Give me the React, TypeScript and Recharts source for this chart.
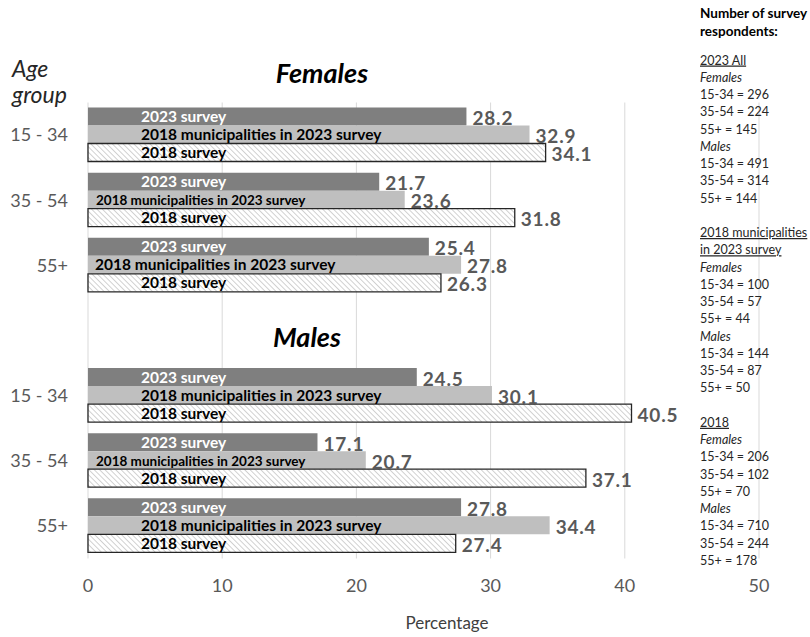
import React from "react";
import { Bar, BarChart, CartesianGrid, LabelList, XAxis, YAxis } from "recharts";

// rows of the chart, top to bottom; "gap" is the empty row that holds the "Males" title
const rows = ["f15", "f35", "f55", "gap", "m15", "m35", "m55"];
const ageLabels = ["15 - 34", "35 - 54", "55+", "", "15 - 34", "35 - 54", "55+"];
const survey2023 = [28.2, 21.7, 25.4, null, 24.5, 17.1, 27.8];
const municipalities2023 = [32.9, 23.6, 27.8, null, 30.1, 20.7, 34.4];
const survey2018 = [34.1, 31.8, 26.3, null, 40.5, 37.1, 27.4];
const xTicks = [0, 10, 20, 30, 40, 50];

const seriesNames = {
  s2023: "2023 survey",
  muni: "2018 municipalities in 2023 survey",
  s2018: "2018 survey",
};

const respondentLines: { text: string; kind: "u" | "i" | "n" | "b" }[] = [
  { text: "2023 All", kind: "u" },
  { text: "Females", kind: "i" },
  { text: "15-34 = 296", kind: "n" },
  { text: "35-54 = 224", kind: "n" },
  { text: "55+ = 145", kind: "n" },
  { text: "Males", kind: "i" },
  { text: "15-34 = 491", kind: "n" },
  { text: "35-54 = 314", kind: "n" },
  { text: "55+ = 144", kind: "n" },
  { text: "", kind: "b" },
  { text: "2018 municipalities", kind: "u" },
  { text: "in 2023 survey", kind: "u" },
  { text: "Females", kind: "i" },
  { text: "15-34 = 100", kind: "n" },
  { text: "35-54 = 57", kind: "n" },
  { text: "55+ = 44", kind: "n" },
  { text: "Males", kind: "i" },
  { text: "15-34 = 144", kind: "n" },
  { text: "35-54 = 87", kind: "n" },
  { text: "55+ = 50", kind: "n" },
  { text: "", kind: "b" },
  { text: "2018", kind: "u" },
  { text: "Females", kind: "i" },
  { text: "15-34 = 206", kind: "n" },
  { text: "35-54 = 102", kind: "n" },
  { text: "55+ = 70", kind: "n" },
  { text: "Males", kind: "i" },
  { text: "15-34 = 710", kind: "n" },
  { text: "35-54 = 244", kind: "n" },
  { text: "55+ = 178", kind: "n" },
];

const data = rows.map((row, i) => ({
  row,
  s2023: survey2023[i],
  muni: municipalities2023[i],
  s2018: survey2018[i],
}));

const FONT = "Lato, 'Open Sans', sans-serif";
const labelGrey = "#595959";

// rows where the long series name is squeezed in a smaller font
const compactRows = ["f35", "m35"];

// the LabelList uses dataKey="row", so value is the row id
function nameLabel(key: keyof typeof seriesNames, color: string) {
  return (props: any) => {
    const { x, y, height, value } = props;
    if (value == null || x == null || value === "gap") return null;
    const compact = key === "muni" && compactRows.includes(value);
    const wide = key === "muni" && value === "f55";
    const dx = compact ? 8 : wide ? 7 : 53;
    return (
      <text
        x={x + dx}
        y={y + height - 3.5}
        fill={color}
        fontSize={compact ? 13.5 : 15.5}
        fontWeight="bold"
        fontFamily={FONT}
      >
        {seriesNames[key]}
      </text>
    );
  };
}

function valueLabel(props: any) {
  const { x, y, width, height, value } = props;
  if (value == null || x == null) return null;
  return (
    <text
      x={x + width + 6}
      y={y + height - 0.5}
      fill={labelGrey}
      fontSize={19}
      letterSpacing={0.8}
      fontWeight="bold"
      fontFamily={FONT}
    >
      {value.toFixed(1)}
    </text>
  );
}

export default function App() {
  return (
    <div style={{ position: "absolute", left: 0, top: 0, width: 810, height: 637, background: "#fff" }}>
      <svg width={0} height={0} style={{ position: "absolute" }}>
        <defs>
          <pattern id="hatch2018" width={3.8} height={3.8} patternUnits="userSpaceOnUse" patternTransform="rotate(-45)">
            <rect width={3.8} height={3.8} fill="#fff" />
            <line x1={0} y1={0} x2={0} y2={3.8} stroke="#b3b3b3" strokeWidth={1.2} />
          </pattern>
        </defs>
      </svg>
      <BarChart
        width={810}
        height={637}
        data={data}
        layout="vertical"
        margin={{ top: 102.5, right: 51, bottom: 0, left: 0 }}
        barGap={0}
        barCategoryGap={5}
        style={{ fontFamily: FONT }}
      >
        <CartesianGrid horizontal={false} stroke="#d9d9d9" />
        <XAxis
          type="number"
          domain={[0, 50]}
          ticks={xTicks}
          height={78.5}
          tickLine={false}
          axisLine={false}
          tickSize={0}
          tickMargin={21}
          tick={{ fill: labelGrey, fontSize: 18, fontFamily: FONT }}
        />
        <YAxis
          type="category"
          dataKey="row"
          width={88}
          tickLine={false}
          axisLine={false}
          tickSize={0}
          tickMargin={20}
          tickFormatter={(v: string) => ageLabels[rows.indexOf(v)]}
          tick={{ fill: labelGrey, fontSize: 18, fontFamily: FONT }}
        />
        <Bar dataKey="s2023" fill="#7f7f7f" isAnimationActive={false}>
          <LabelList dataKey="row" content={nameLabel("s2023", "#fff")} />
          <LabelList dataKey="s2023" content={valueLabel} />
        </Bar>
        <Bar dataKey="muni" fill="#bfbfbf" isAnimationActive={false}>
          <LabelList dataKey="row" content={nameLabel("muni", "#000")} />
          <LabelList dataKey="muni" content={valueLabel} />
        </Bar>
        <Bar dataKey="s2018" fill="url(#hatch2018)" stroke="#262626" strokeWidth={1.3} isAnimationActive={false}>
          <LabelList dataKey="row" content={nameLabel("s2018", "#000")} />
          <LabelList dataKey="s2018" content={valueLabel} />
        </Bar>
      </BarChart>
      <svg
        width={810}
        height={637}
        style={{ position: "absolute", left: 0, top: 0, pointerEvents: "none", fontFamily: FONT }}
      >
        <text x={12} y={77} fontSize={23} fontStyle="italic" fill="#262626">Age</text>
        <text x={12} y={103} fontSize={23} fontStyle="italic" fill="#262626">group</text>
        <text x={322} y={83} fontSize={27} fontStyle="italic" fontWeight="bold" fill="#000" textAnchor="middle">
          Females
        </text>
        <text x={307} y={347} fontSize={27} fontStyle="italic" fontWeight="bold" fill="#000" textAnchor="middle">
          Males
        </text>
        <text x={447} y={629} fontSize={17} fill="#404040" textAnchor="middle">Percentage</text>
        <text x={700} y={18} fontSize={13.5} fontWeight="bold" fill="#000">Number of survey</text>
        <text x={700} y={36} fontSize={13.5} fontWeight="bold" fill="#000">respondents:</text>
        {respondentLines.map((l, i) =>
          l.kind === "b" ? null : (
            <text
              key={i}
              x={700}
              y={64.5 + i * 17.25}
              fontSize={12.5}
              fill="#262626"
              fontStyle={l.kind === "i" ? "italic" : "normal"}
              textDecoration={l.kind === "u" ? "underline" : "none"}
            >
              {l.text}
            </text>
          )
        )}
      </svg>
    </div>
  );
}
